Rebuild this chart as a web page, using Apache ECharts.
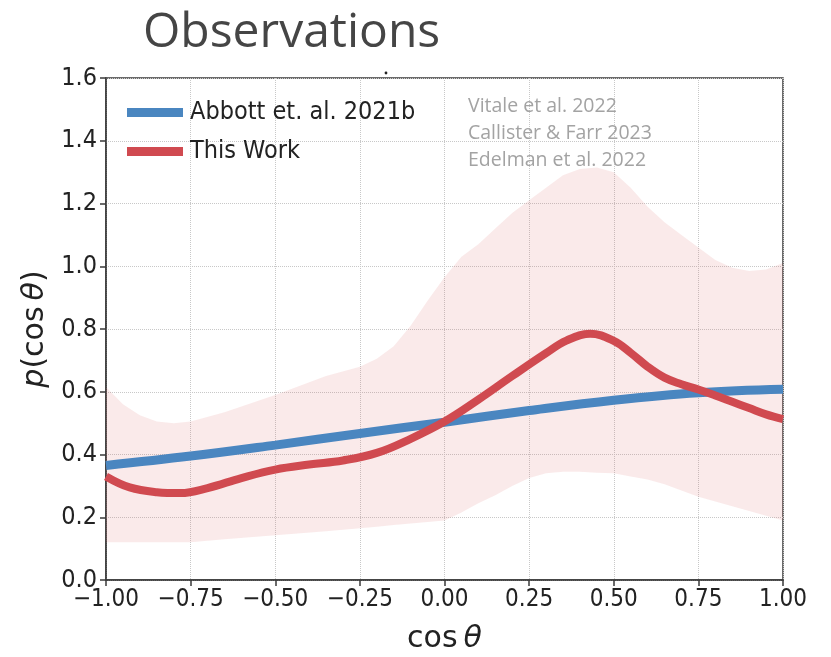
<!DOCTYPE html>
<html>
<head>
<meta charset="utf-8">
<script src="https://cdn.jsdelivr.net/npm/echarts@6/dist/echarts.min.js"></script>
<style>
  html, body { margin: 0; padding: 0; background: #ffffff; }
  #chart { width: 831px; height: 657px; }
</style>
</head>
<body>
<div id="chart"></div>
<script>
// Abbott et. al. 2021b: p(cos θ) curve
const abbottX = [-1.0, -0.75, -0.5, -0.25, 0.0, 0.25, 0.5, 0.75, 1.0];
const abbottY = [0.365, 0.395, 0.43, 0.467, 0.503, 0.54, 0.573, 0.597, 0.608];

// This Work: p(cos θ) curve
const workX = [-1.0, -0.93, -0.85, -0.78, -0.7, -0.6, -0.5, -0.4, -0.3, -0.2, -0.1,
               0.0, 0.1, 0.2, 0.3, 0.36, 0.43, 0.5, 0.55, 0.6, 0.65, 0.7, 0.75, 0.8, 0.85, 0.9, 0.95, 1.0];
const workY = [0.33, 0.295, 0.28, 0.277, 0.293, 0.325, 0.352, 0.368, 0.381, 0.405, 0.45,
               0.505, 0.575, 0.65, 0.723, 0.763, 0.785, 0.762, 0.724, 0.68, 0.645, 0.624, 0.607, 0.588, 0.568, 0.548, 0.528, 0.513];

// Credible band of the literature results
const bandX = [-1.0, -0.95, -0.9, -0.85, -0.8, -0.75, -0.65, -0.5, -0.35, -0.25, -0.2, -0.15, -0.1, -0.05,
               0.0, 0.05, 0.1, 0.15, 0.2, 0.25, 0.3, 0.35, 0.4, 0.45, 0.5, 0.55, 0.6, 0.65, 0.7, 0.75, 0.8, 0.85, 0.9, 0.95, 1.0];
const bandHigh = [0.615, 0.56, 0.525, 0.505, 0.50, 0.505, 0.535, 0.59, 0.65, 0.68, 0.705, 0.745, 0.81, 0.89,
                  0.965, 1.03, 1.07, 1.12, 1.17, 1.21, 1.25, 1.29, 1.31, 1.315, 1.30, 1.25, 1.19, 1.14, 1.10, 1.06, 1.02, 0.995, 0.985, 0.99, 1.01];
const bandLow = [0.12, 0.12, 0.12, 0.12, 0.12, 0.12, 0.13, 0.143, 0.155, 0.165, 0.17, 0.175, 0.18, 0.185,
                 0.19, 0.215, 0.245, 0.27, 0.30, 0.325, 0.34, 0.345, 0.345, 0.342, 0.34, 0.33, 0.32, 0.305, 0.285, 0.265, 0.25, 0.235, 0.22, 0.205, 0.19];

const citations = ['Vitale et al. 2022', 'Callister & Farr 2023', 'Edelman et al. 2022'];
const seriesNames = ['Abbott et. al. 2021b', 'This Work'];

const pairs = (xs, ys) => xs.map((x, i) => [x, ys[i]]);
const minus = (s) => s.replace('-', '\u2212');

const axisColor = '#3a3a3a';
const tickFont = 'DejaVu Sans Condensed, DejaVu Sans';

const chart = echarts.init(document.getElementById('chart'), null, { renderer: 'canvas' });

chart.setOption({
  animation: false,
  backgroundColor: '#ffffff',
  title: [
    {
      text: 'Observations',
      left: 138, top: 4,
      textStyle: { fontFamily: 'Open Sans', fontSize: 48, fontWeight: 'normal', color: '#454545' }
    },
    {
      text: citations.join('\n'),
      left: 463, top: 88,
      textStyle: { fontFamily: 'Open Sans', fontSize: 19.5, fontWeight: 'normal', color: '#a3a3a3', lineHeight: 27 }
    }
  ],
  legend: {
    orient: 'vertical',
    left: 122, top: 95,
    icon: 'rect',
    itemWidth: 56, itemHeight: 9, itemGap: 14,
    data: seriesNames,
    textStyle: { fontFamily: tickFont, fontSize: 25, color: '#222', lineHeight: 24, padding: [0, 0, 0, 2] }
  },
  grid: {
    left: 106, right: 48, top: 78, bottom: 77,
    containLabel: false,
    outerBoundsMode: 'none',
    show: true, borderColor: axisColor, borderWidth: 1.5, backgroundColor: 'transparent'
  },
  xAxis: {
    type: 'value', min: -1, max: 1, interval: 0.25,
    name: 'cos\u2009{i|θ}',
    nameLocation: 'middle', nameGap: 44,
    nameTextStyle: {
      fontFamily: 'DejaVu Sans', fontSize: 30, color: '#222',
      rich: { i: { fontFamily: 'DejaVu Sans', fontStyle: 'italic', fontSize: 30, color: '#222' } }
    },
    axisLine: { show: true, onZero: false, lineStyle: { color: axisColor, width: 1.5 } },
    axisTick: { show: true, length: 6, lineStyle: { color: axisColor, width: 1.5 } },
    axisLabel: {
      formatter: (v) => minus(v.toFixed(2)),
      fontFamily: tickFont, fontSize: 24, color: '#222', margin: 8
    },
    splitLine: { show: true, lineStyle: { type: 'dotted', color: '#c8c8c8', width: 1 } }
  },
  yAxis: {
    type: 'value', min: 0, max: 1.6, interval: 0.2,
    name: '{i|p}(cos\u2009{i|θ})',
    nameLocation: 'middle', nameGap: 56, nameRotate: 90,
    nameTextStyle: {
      fontFamily: 'DejaVu Sans', fontSize: 30, color: '#222',
      rich: { i: { fontFamily: 'DejaVu Sans', fontStyle: 'italic', fontSize: 30, color: '#222' } }
    },
    axisLine: { show: true, onZero: false, lineStyle: { color: axisColor, width: 1.5 } },
    axisTick: { show: true, length: 6, lineStyle: { color: axisColor, width: 1.5 } },
    axisLabel: {
      formatter: (v) => v.toFixed(1),
      fontFamily: tickFont, fontSize: 25, color: '#222', margin: 9
    },
    splitLine: { show: true, lineStyle: { type: 'dotted', color: '#c8c8c8', width: 1 } }
  },
  graphic: [
    { type: 'circle', shape: { cx: 386, cy: 73, r: 1.4 }, style: { fill: '#222' } }
  ],
  series: [
    {
      name: 'band',
      type: 'custom',
      silent: true,
      z: 1,
      data: bandX.map((x, i) => [x, bandLow[i], bandHigh[i]]),
      encode: { x: 0, y: [1, 2] },
      renderItem: (params, api) => {
        if (params.dataIndex !== 0) return null;
        const pts = [];
        for (let i = 0; i < bandX.length; i++) pts.push(api.coord([bandX[i], bandHigh[i]]));
        for (let i = bandX.length - 1; i >= 0; i--) pts.push(api.coord([bandX[i], bandLow[i]]));
        return {
          type: 'polygon',
          shape: { points: pts },
          style: { fill: 'rgba(220, 90, 95, 0.13)' }
        };
      }
    },
    {
      name: seriesNames[0],
      type: 'line',
      data: pairs(abbottX, abbottY),
      smooth: 0.4,
      symbol: 'none',
      z: 3,
      itemStyle: { color: '#4a86c0' },
      lineStyle: { color: '#4a86c0', width: 9 }
    },
    {
      name: seriesNames[1],
      type: 'line',
      data: pairs(workX, workY),
      smooth: 0.4,
      symbol: 'none',
      z: 4,
      itemStyle: { color: '#d04a50' },
      lineStyle: { color: '#d04a50', width: 8 }
    }
  ]
});
</script>
</body>
</html>
